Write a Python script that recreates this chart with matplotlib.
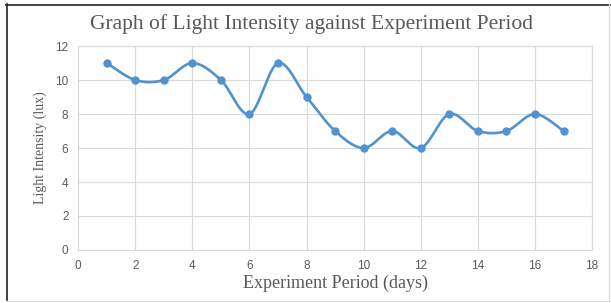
import matplotlib.pyplot as plt
import numpy as np
from matplotlib.lines import Line2D

days = [1, 2, 3, 4, 5, 6, 7, 8, 9, 10, 11, 12, 13, 14, 15, 16, 17]
intensity = [11, 10, 10, 11, 10, 8, 11, 9, 7, 6, 7, 6, 8, 7, 7, 8, 7]
x_ticks = [0, 2, 4, 6, 8, 10, 12, 14, 16, 18]
y_ticks = [0, 2, 4, 6, 8, 10, 12]


def smooth_curve(x, y, n=30):
    # Excel-like smoothing: cubic bezier with catmull-rom control points
    x = np.asarray(x, float)
    y = np.asarray(y, float)
    px = np.concatenate([[x[0]], x, [x[-1]]])
    py = np.concatenate([[y[0]], y, [y[-1]]])
    xs, ys = [], []
    t = np.linspace(0, 1, n)
    for i in range(len(x) - 1):
        p0 = np.array([px[i + 1], py[i + 1]])
        p3 = np.array([px[i + 2], py[i + 2]])
        c1 = p0 + (p3 - np.array([px[i], py[i]])) / 6
        c2 = p3 - (np.array([px[i + 3], py[i + 3]]) - p0) / 6
        b = ((1 - t) ** 3)[:, None] * p0 + (3 * (1 - t) ** 2 * t)[:, None] * c1 \
            + (3 * (1 - t) * t ** 2)[:, None] * c2 + (t ** 3)[:, None] * p3
        xs.append(b[:, 0])
        ys.append(b[:, 1])
    return np.concatenate(xs), np.concatenate(ys)


fig = plt.figure(figsize=(6.11, 3.03), dpi=100)
ax = fig.add_axes([0.128, 0.175, 0.841, 0.673])

sx, sy = smooth_curve(days, intensity)
line_color = '#5292cf'
ax.plot(sx, sy, color=line_color, lw=1.9, zorder=3)
ax.plot(days, intensity, 'o', color=line_color, ms=5, zorder=4)

ax.set_xlim(0, 18)
ax.set_ylim(0, 12)
ax.set_xticks(x_ticks)
ax.set_yticks(y_ticks)
ax.grid(True, color='#d9d9d9', lw=0.8)
ax.set_axisbelow(True)
for s in ax.spines.values():
    s.set_color('#d9d9d9')
    s.set_linewidth(0.8)
ax.tick_params(length=0, labelsize=8.5, labelcolor='#595959', pad=7)
for lab in ax.get_xticklabels() + ax.get_yticklabels():
    lab.set_family('Liberation Sans')

fig.text(0.51, 0.922, 'Graph of Light Intensity against Experiment Period',
         ha='center', va='center', family='Liberation Serif', fontsize=15.5, color='#595959')
ax.set_xlabel('Experiment Period (days)', family='Liberation Serif', fontsize=13,
              color='#595959', labelpad=2)
ax.set_ylabel('Light Intensity (lux)', family='Liberation Serif', fontsize=10,
              color='#595959', labelpad=6)

# frame of the pasted picture: dark on top/left, light on right/bottom
def px_line(x0, y0, x1, y1, c, lw):
    fig.add_artist(Line2D([x0 / 611, x1 / 611], [1 - y0 / 303, 1 - y1 / 303],
                          transform=fig.transFigure, color=c, lw=lw))

px_line(6, 4.5, 610, 4.5, '#333333', 1.3)
px_line(6.5, 4, 6.5, 301, '#333333', 1.3)
px_line(609, 4, 609, 300, '#dddddd', 1.0)
px_line(6, 300.5, 610, 300.5, '#dddddd', 1.0)

fig.savefig('out.png', dpi=100)
